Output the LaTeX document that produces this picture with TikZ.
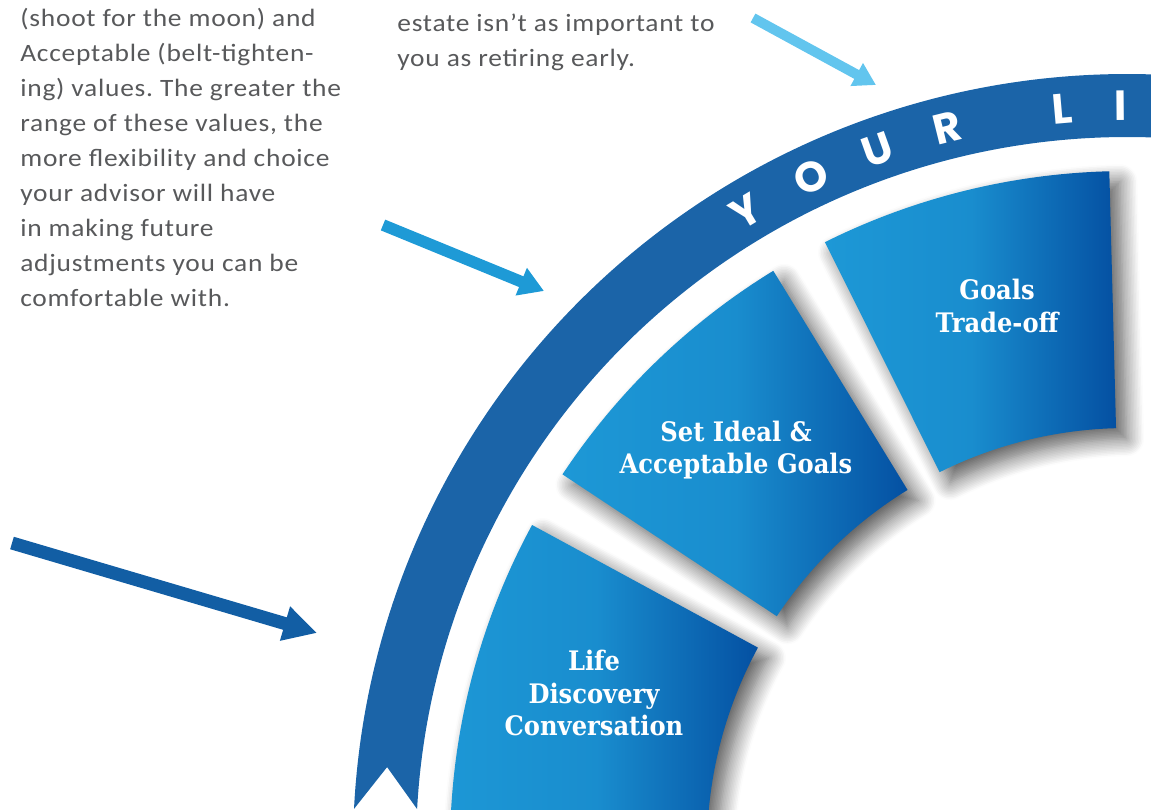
\documentclass[tikz,border=0pt]{standalone}
\usepackage{fontspec}
\setmainfont{Carlito}[LetterSpace=3, FakeStretch=1.1]
\newfontfamily\segfont{DejaVu Serif}[FakeStretch=0.9]
\newfontfamily\bandfont{Poppins}
\usetikzlibrary{calc, arrows.meta, shadows.blur}
\frenchspacing

\definecolor{bandblue}{HTML}{1B64A8}
\definecolor{segl}{HTML}{1D98D6}
\definecolor{segd}{HTML}{0450A2}
\definecolor{arrl}{HTML}{62C5EE}
\definecolor{arrm}{HTML}{1E9AD6}
\definecolor{arrd}{HTML}{125EA4}
\definecolor{bodygray}{HTML}{58595B}

\begin{document}
\begin{tikzpicture}[x=0.02cm, y=-0.02cm,
	bodytext/.style={text=bodygray, align=left, inner sep=0pt, font=\fontsize{14.2}{19.9}\selectfont},
	seglabel/.style={text=white, align=center, inner sep=0pt, font=\segfont\bfseries\fontsize{15.3}{18.4}\selectfont},
	bandletter/.style={text=white, inner sep=0pt, font=\bandfont\bfseries\fontsize{24}{24}\selectfont},
	segment/.style={left color=segl, right color=segd, middle color=segl!85!segd},
	segshadow/.style={blur shadow={shadow xshift=6pt, shadow yshift=-6pt, shadow blur radius=10pt, shadow blur steps=12, shadow opacity=65}},
	arr/.style={line width=7pt, -{Triangle[width=17pt, length=15pt]}}]
	\useasboundingbox (0,0) rectangle (1151,809);
	\clip (0,0) rectangle (1151,809);
	
	\coordinate (C) at (1127,848);% centre of the rings
	
	% ribbon
	\begin{scope}[shift={(C)}]
		\fill[bandblue] (-177.1:774) arc[start angle=-177.1, end angle=-70, radius=774]
			-- (-70:711) arc[start angle=-70, end angle=-176.86, radius=711]
			-- ++(-30,-42) -- cycle;
		\foreach \ch/\ang in {Y/120.9, O/115.2, U/109.65, R/104.0, L/95.0, I/90.5}
			\node[bandletter, rotate=\ang-90] (l\ch) at (-\ang:742) {\ch};
		
		% steps
		\foreach \a/\b in {91.5/116.5, 121.5/146.5, 151.5/190}
			\path[segshadow, segment] (-\a:677) arc[start angle=-\a, end angle=-\b, radius=677]
				-- (-\b:420) arc[start angle=-\b, end angle=-\a, radius=420] -- cycle;
	\end{scope}
	
	\node[seglabel] (tradeoff) at (997,306) {Goals\\Trade-off};
	\node[seglabel] (setgoals) at (736,450) {Set Ideal \&\\Acceptable Goals};
	\node[seglabel] (discovery) at (594,693) {Life\\Discovery\\Conversation};
	
	% notes
	\node[bodytext, anchor=north west] (ranges) at (20,8) {(shoot for the moon) and\\Acceptable (belt-tighten-\\ing) values. The greater the\\range of these values, the\\more flexibility and choice\\your advisor will have\\in making future\\adjustments you can be\\comfortable with.};
	\node[bodytext, anchor=north west] (estate) at (397,14) {estate isn’t as important to\\you as retiring early.};
	
	% pointers
	\coordinate (t1) at (753,18);
	\coordinate (h1) at (876,85);
	\coordinate (t2) at (383,225);
	\coordinate (h2) at (544,291);
	\coordinate (t3) at (12,543);
	\coordinate (h3) at (317,633);
	
	\path [arr, arrl, line width=5.7pt, -{Triangle[width=14pt, length=12.5pt]}] (t1) edge (h1);
	\path [arr, arrm, line width=6.6pt, -{Triangle[width=16pt, length=14pt]}] (t2) edge (h2);
	\path [arr, arrd, line width=7.4pt, -{Triangle[width=19pt, length=19pt]}] (t3) edge (h3);
\end{tikzpicture}
\end{document}
